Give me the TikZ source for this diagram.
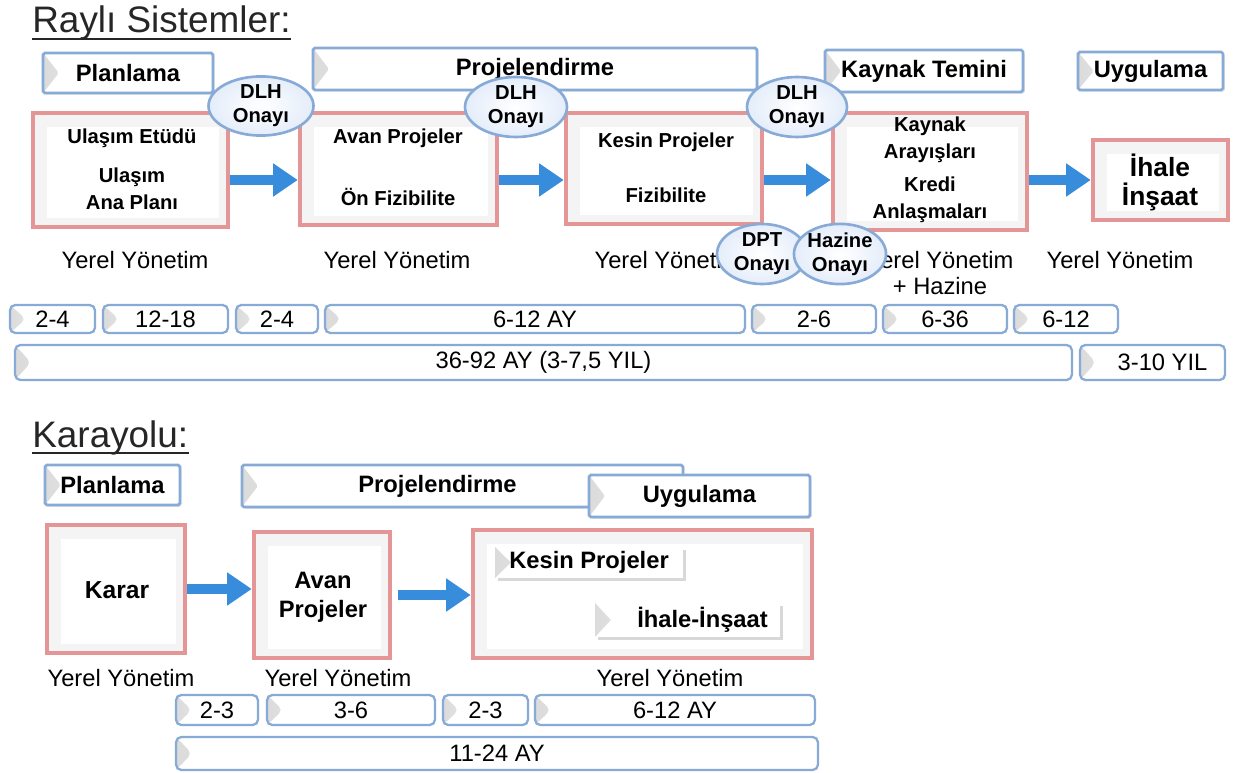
\documentclass[tikz,border=0pt]{standalone}
\usepackage{fontspec}
\setmainfont{Liberation Sans}
\usetikzlibrary{shapes.geometric,arrows.meta,shadows}

\definecolor{bordblue}{RGB}{135,170,215}
\definecolor{bordred}{RGB}{228,150,150}
\definecolor{arrowblue}{RGB}{55,140,220}
\definecolor{ovalblue}{RGB}{228,237,250}

\tikzset{
  bevel/.style={path picture={\shade[left color=gray!28,right color=white]
      (path picture bounding box.north west) -- ([xshift=9pt]path picture bounding box.west)
      -- (path picture bounding box.south west) -- cycle;}},
  phase/.style={draw=bordblue,line width=1.6pt,fill=white,rounded corners=1pt,inner sep=0pt,bevel,
      drop shadow={shadow xshift=1pt,shadow yshift=-1pt,opacity=.2},
      font=\fontsize{13.5}{16}\selectfont\bfseries},
  dur/.style={draw=bordblue,line width=1.3pt,fill=white,rounded corners=3pt,inner sep=0pt,bevel,
      font=\fontsize{13.5}{16}\selectfont},
  innerbox/.style={fill=white,inner sep=0pt,bevel,
      drop shadow={shadow xshift=1.5pt,shadow yshift=-1.5pt,opacity=.3},
      font=\fontsize{13.5}{16}\selectfont\bfseries},
  stage/.style={draw=bordred,line width=2.6pt,fill=gray!9,inner sep=0pt,
      drop shadow={shadow xshift=1pt,shadow yshift=-1pt,opacity=.15},
      path picture={\fill[white] ([shift={(8pt,-8pt)}]path picture bounding box.north west)
      rectangle ([shift={(-5pt,5pt)}]path picture bounding box.south east);}},
  onay/.style={ellipse,draw=bordblue,line width=1.5pt,inner color=white,outer color=ovalblue,
      inner sep=0pt,align=center,font=\fontsize{11.5}{13.5}\selectfont\bfseries},
  flow/.style={line width=5.5pt,draw=arrowblue,-{Triangle[length=14pt,width=18pt]}},
  btxt/.style={align=center,font=\fontsize{11.5}{15.5}\selectfont\bfseries},
  lbl/.style={align=center,font=\fontsize{13.5}{15}\selectfont},
  title/.style={inner sep=0pt,text=black!85,font=\fontsize{21}{24}\selectfont}
}

\begin{document}
\begin{tikzpicture}[x=0.02cm,y=-0.02cm]
\useasboundingbox (0,0) rectangle (1246,773);

% Rayli Sistemler
\node[title,anchor=base west] (t1) at (32,33) {Raylı Sistemler:};
\draw[line width=1.3pt,black!85] ([yshift=-3.5pt]t1.base west) -- ([yshift=-3.5pt]t1.base east);

\node[phase,minimum width=3.4cm,minimum height=0.8cm] (p1) at (128,73) {Planlama};
\node[phase,minimum width=8.88cm,minimum height=0.84cm] (p2) at (535,69) {Projelendirme};
\node[phase,minimum width=3.96cm,minimum height=0.84cm] (p3) at (924,71) {Kaynak Temini};
\node[phase,minimum width=2.9cm,minimum height=0.76cm] (p4) at (1150.5,71) {Uygulama};

\node[stage,minimum width=3.9cm,minimum height=2.28cm] (s1) at (130.5,170) {};
\node[stage,minimum width=3.94cm,minimum height=2.24cm] (s2) at (398.5,169) {};
\node[stage,minimum width=3.92cm,minimum height=2.22cm] (s3) at (664,168.5) {};
\node[stage,minimum width=3.88cm,minimum height=2.34cm] (s4) at (930,171.5) {};
\node[stage,minimum width=2.7cm,minimum height=1.6cm] (s5) at (1160.5,180) {};

\node[btxt] (s1a) at (132,138) {Ulaşım Etüdü};
\node[btxt] (s1b) at (132,189) {Ulaşım\\Ana Planı};
\node[btxt] (s2a) at (398,138) {Avan Projeler};
\node[btxt] (s2b) at (398,197) {Ön Fizibilite};
\node[btxt] (s3a) at (666,142) {Kesin Projeler};
\node[btxt] (s3b) at (666,195) {Fizibilite};
\node[btxt] (s4a) at (930,140) {Kaynak\\Arayışları};
\node[btxt] (s4b) at (930,200) {Kredi\\Anlaşmaları};
\node[btxt,font=\fontsize{15}{16.5}\selectfont\bfseries] (s5a) at (1160,182) {İhale\\İnşaat};

\draw[flow] ([yshift=-0.2cm]s1.east) -- ([yshift=-0.2cm]s1.east -| s2.west);
\draw[flow] ([yshift=-0.22cm]s2.east) -- ([yshift=-0.22cm]s2.east -| s3.west);
\draw[flow] ([yshift=-0.23cm]s3.east) -- ([yshift=-0.23cm]s3.east -| s4.west);
\draw[flow] (s4.east |- s5.west) -- (s5.west);

\node[onay,minimum width=2.1cm,minimum height=1.16cm] (o1) at (261,106) {DLH\\Onayı};
\node[onay,minimum width=2.04cm,minimum height=1.2cm] (o2) at (516,107) {DLH\\Onayı};
\node[onay,minimum width=2.0cm,minimum height=1.2cm] (o3) at (797,107) {DLH\\Onayı};

\node[lbl] (y1) at (135,260) {Yerel Yönetim};
\node[lbl] (y2) at (397,260) {Yerel Yönetim};
\node[lbl] (y3) at (668,260) {Yerel Yönetim};
\node[lbl] (y4) at (940,273) {Yerel Yönetim\\+ Hazine};
\node[lbl] (y5) at (1120,260) {Yerel Yönetim};

\node[onay,minimum width=1.8cm,minimum height=1.2cm] (o4) at (762,254) {DPT\\Onayı};
\node[onay,minimum width=1.8cm,minimum height=1.2cm] (o5) at (840,254) {Hazine\\Onayı};

\node[dur,minimum width=1.7cm,minimum height=0.56cm] (d1) at (52.5,319) {2-4};
\node[dur,minimum width=2.5cm,minimum height=0.56cm] (d2) at (165.5,319) {12-18};
\node[dur,minimum width=1.64cm,minimum height=0.56cm] (d3) at (277,319) {2-4};
\node[dur,minimum width=8.4cm,minimum height=0.56cm] (d4) at (535,319) {6-12 AY};
\node[dur,minimum width=2.48cm,minimum height=0.56cm] (d5) at (814,319) {2-6};
\node[dur,minimum width=2.48cm,minimum height=0.56cm] (d6) at (945,319) {6-36};
\node[dur,minimum width=2.08cm,minimum height=0.56cm] (d7) at (1066,319) {6-12};
\node[dur,minimum width=21.14cm,minimum height=0.7cm] (e1) at (543.5,362.5) {36-92 AY (3-7,5 YIL)};
\node[dur,minimum width=2.9cm,minimum height=0.7cm] (e2) at (1152.5,362.5) {\hspace*{0.4cm}3-10 YIL};

% Karayolu
\node[title,anchor=base west] (t2) at (32,447) {Karayolu:};
\draw[line width=1.3pt,black!85] ([yshift=-3.5pt]t2.base west) -- ([yshift=-3.5pt]t2.base east);

\node[phase,minimum width=2.7cm,minimum height=0.8cm] (q1) at (112.5,485) {Planlama};
\node[phase,minimum width=8.82cm,minimum height=0.84cm] (q2) at (462.5,486) {\hspace*{-1cm}Projelendirme};
\node[phase,minimum width=4.42cm,minimum height=0.84cm] (q3) at (699.5,496) {Uygulama};

\node[stage,minimum width=2.76cm,minimum height=2.56cm] (k1) at (116,589) {};
\node[stage,minimum width=2.72cm,minimum height=2.52cm] (k2) at (322,595) {};
\node[stage,minimum width=6.78cm,minimum height=2.56cm] (k3) at (642.5,594) {};

\node[btxt,font=\fontsize{14}{16}\selectfont\bfseries] (k1a) at (117,590) {Karar};
\node[btxt,font=\fontsize{13.5}{16.5}\selectfont\bfseries] (k2a) at (323,597) {Avan\\Projeler};
\node[innerbox,minimum width=3.76cm,minimum height=0.62cm] (k3a) at (589,562.5) {Kesin Projeler};
\node[innerbox,minimum width=3.7cm,minimum height=0.68cm] (k3b) at (687.5,620) {\hspace*{0.6cm}İhale-İnşaat};

\draw[flow] (k1.east) -- (k1.east -| k2.west);
\draw[flow,shorten <=3pt] (k2.east) -- (k2.east -| k3.west);

\node[lbl] (z1) at (121,678) {Yerel Yönetim};
\node[lbl] (z2) at (338,678) {Yerel Yönetim};
\node[lbl] (z3) at (670,678) {Yerel Yönetim};

\node[dur,minimum width=1.64cm,minimum height=0.6cm] (f1) at (217,710) {2-3};
\node[dur,minimum width=3.36cm,minimum height=0.6cm] (f2) at (351,710) {3-6};
\node[dur,minimum width=1.7cm,minimum height=0.6cm] (f3) at (485.5,710) {2-3};
\node[dur,minimum width=5.6cm,minimum height=0.6cm] (f4) at (675,710) {6-12 AY};
\node[dur,minimum width=12.84cm,minimum height=0.66cm] (g1) at (497,753.5) {11-24 AY};

\end{tikzpicture}
\end{document}
